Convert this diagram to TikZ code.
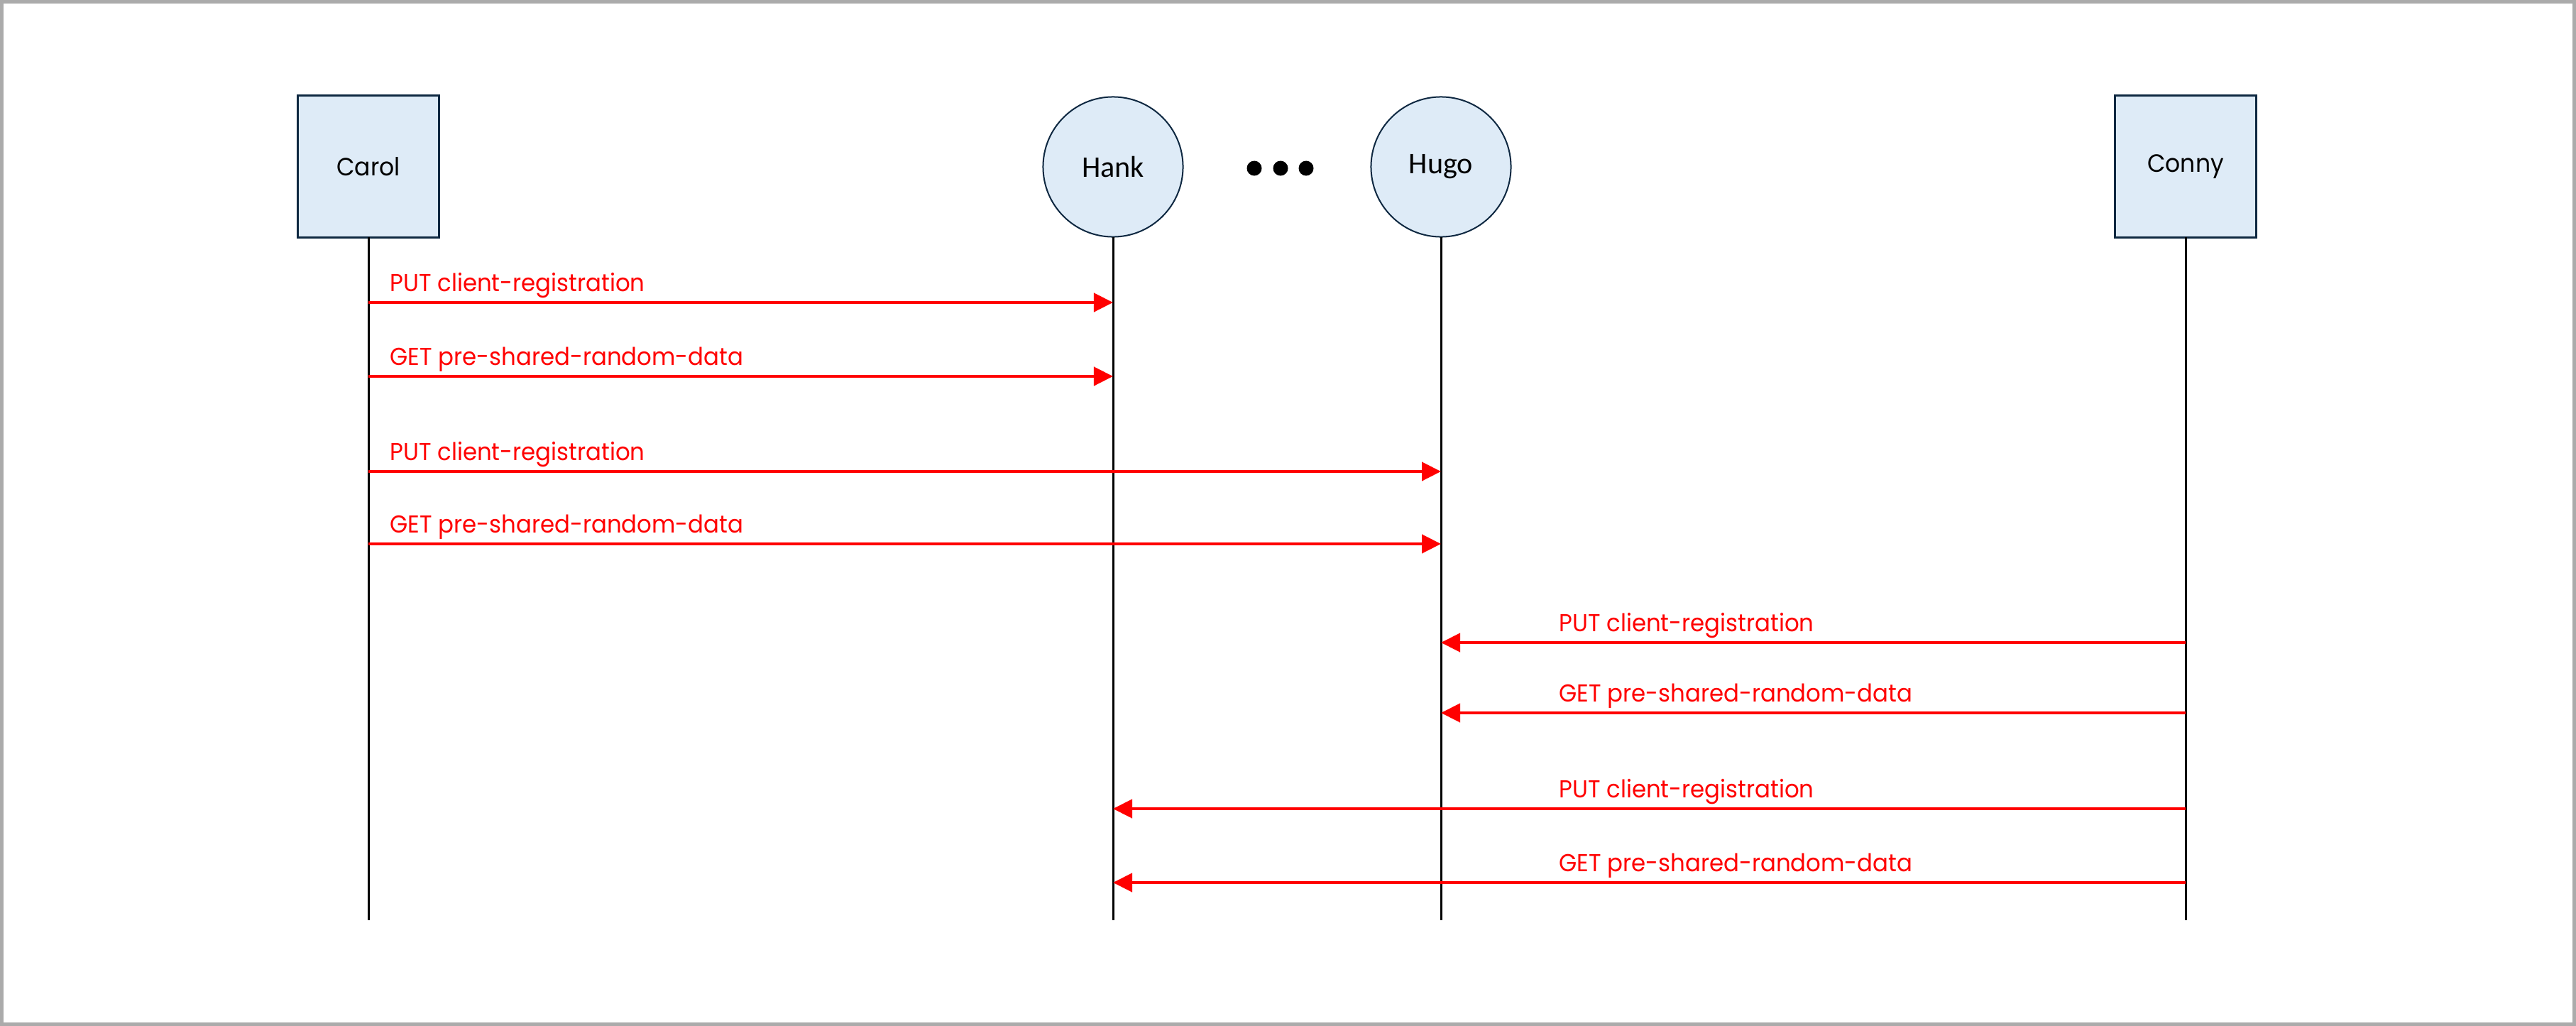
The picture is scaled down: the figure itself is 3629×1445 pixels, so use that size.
\documentclass[tikz,border=0pt]{standalone}
\usepackage{fontspec}
\setmainfont{Poppins}
\newfontfamily\calibrifont{Carlito}
\newfontfamily\lblfont[FakeStretch=0.94]{Poppins}
\usetikzlibrary{arrows.meta}
\definecolor{boxfill}{HTML}{DEEBF7}
\definecolor{boxline}{HTML}{0E2841}
\definecolor{framegray}{HTML}{ABABAB}
\definecolor{msgred}{HTML}{FF0000}
\tikzset{
  actorbox/.style={draw=boxline, fill=boxfill, line width=0.03cm, inner sep=0pt, outer sep=0pt,
    minimum width=1.98cm, minimum height=1.99cm, font=\lblfont\fontsize{10}{12}\selectfont},
  actorcirc/.style={draw=boxline, fill=boxfill, line width=0.02cm, circle, inner sep=0pt, outer sep=0pt,
    minimum size=1.97cm, font=\calibrifont\fontsize{12}{14}\selectfont},
  dotnode/.style={circle, fill=black, inner sep=0pt, minimum size=0.21cm},
  lifeline/.style={draw=black, line width=0.03cm},
  msg/.style={draw=msgred, line width=0.045cm, -{Triangle[length=0.27cm, width=0.26cm]}},
  msglabel/.style={anchor=base west, inner sep=0pt, text=msgred, font=\lblfont\fontsize{9.8}{12}\selectfont},
}
\begin{document}
\begin{tikzpicture}[x=0.01cm, y=-0.01cm]
\useasboundingbox (0,0) rectangle (3629,1445);
\draw[framegray, line width=0.05cm] (2.5,2.5) rectangle (3626.5,1442.5);

% participants
\node[actorbox] (carol) at (519,234.5) {Carol};
\node[actorcirc] (hank) at (1568,235) {Hank};
\node[actorcirc] (hugo) at (2030,235) {Hugo};
\node[actorbox, minimum width=1.99cm] (conny) at (3079,234.5) {Conny};

% ellipsis dots
\node[dotnode] (dot1) at (1767,237) {};
\node[dotnode] (dot2) at (1804,237) {};
\node[dotnode] (dot3) at (1840,237) {};

% lifeline ends
\coordinate (carolend) at (519,1296);
\coordinate (hankend) at (1568,1296);
\coordinate (hugoend) at (2030,1296);
\coordinate (connyend) at (3079,1296);
\draw[lifeline] (carol.south) -- (carolend);
\draw[lifeline] (hank.south) -- (hankend);
\draw[lifeline] (hugo.south) -- (hugoend);
\draw[lifeline] (conny.south) -- (connyend);

% message end points
\coordinate (c1) at (519,426);  \coordinate (h1) at (1568,426);
\coordinate (c2) at (519,530);  \coordinate (h2) at (1568,530);
\coordinate (c3) at (519,664);  \coordinate (g3) at (2030,664);
\coordinate (c4) at (519,766);  \coordinate (g4) at (2030,766);
\coordinate (n5) at (3079,905); \coordinate (g5) at (2030,905);
\coordinate (n6) at (3079,1004);\coordinate (g6) at (2030,1004);
\coordinate (n7) at (3079,1139);\coordinate (h7) at (1568,1139);
\coordinate (n8) at (3079,1243);\coordinate (h8) at (1568,1243);

\draw[msg] (c1) -- (h1);
\draw[msg] (c2) -- (h2);
\draw[msg] (c3) -- (g3);
\draw[msg] (c4) -- (g4);
\draw[msg] (n5) -- (g5);
\draw[msg] (n6) -- (g6);
\draw[msg] (n7) -- (h7);
\draw[msg] (n8) -- (h8);

% labels
\node[msglabel] (l1) at (549,410) {PUT client-registration};
\node[msglabel] (l2) at (549,514) {GET pre-shared-random-data};
\node[msglabel] (l3) at (549,648) {PUT client-registration};
\node[msglabel] (l4) at (549,750) {GET pre-shared-random-data};
\node[msglabel] (l5) at (2196,889) {PUT client-registration};
\node[msglabel] (l6) at (2196,988) {GET pre-shared-random-data};
\node[msglabel] (l7) at (2196,1123) {PUT client-registration};
\node[msglabel] (l8) at (2196,1227) {GET pre-shared-random-data};
\end{tikzpicture}
\end{document}
